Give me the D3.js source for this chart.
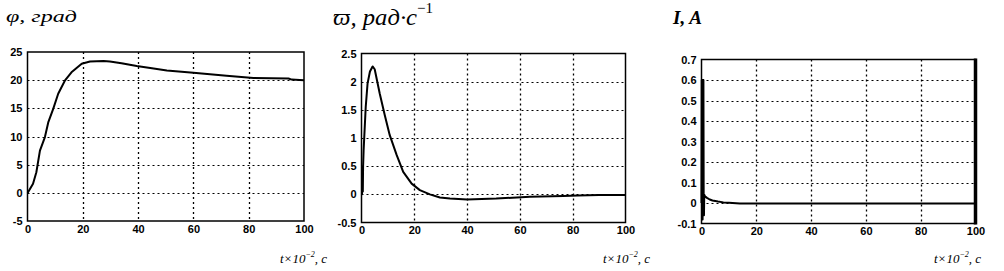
<!DOCTYPE html>
<html><head><meta charset="utf-8">
<script src="https://cdn.jsdelivr.net/npm/d3@7"></script>
<style>html,body{margin:0;padding:0;background:#fff;}svg{display:block;}</style>
</head><body>
<svg id="c" width="1004" height="271"></svg>
<script>
// ---- data ----
const timeTicks = [0, 20, 40, 60, 80, 100];
const phiTicks = [-5, 0, 5, 10, 15, 20, 25];
const omegaTicks = [-0.5, 0, 0.5, 1, 1.5, 2, 2.5];
const currentTicks = [-0.1, 0, 0.1, 0.2, 0.3, 0.4, 0.5, 0.6, 0.7];

const phiT = [0, 0.2, 2, 3.2, 4.5, 6.3, 7.5, 9.3, 11.1, 13.5, 15.9, 19.6, 22.6, 27.5, 29.8, 34, 39.5, 45, 50.4, 60, 72, 81.7, 94.4, 95.5, 100];
const phiV = [0, 0.1, 1.6, 3.65, 7.5, 9.9, 12.5, 14.9, 17.6, 19.9, 21.4, 22.9, 23.3, 23.4, 23.3, 23.0, 22.5, 22.1, 21.7, 21.3, 20.8, 20.4, 20.3, 20.1, 20.0];

const omegaT = [0, 0.2, 0.4, 0.5, 0.6, 0.8, 1.6, 2.3, 3.2, 4.2, 5.0, 6.9, 8.8, 10.7, 13.3, 15.8, 19, 22.1, 25.9, 29.7, 33.5, 40, 51, 63.8, 76.5, 82, 90, 100];
const omegaV = [0, 0, 0.5, 0.05, 0.49, 0.78, 1.55, 1.97, 2.18, 2.27, 2.22, 1.79, 1.41, 1.05, 0.70, 0.40, 0.19, 0.075, 0.0, -0.055, -0.075, -0.09, -0.075, -0.044, -0.03, -0.02, -0.01, -0.01];

const currentT = [0, 0.1, 0.2, 0.3, 0.4, 0.5, 0.6, 0.7, 0.8, 0.9, 1.0, 1.2, 1.5, 2, 3, 4, 6, 8, 10, 14, 18, 30, 50, 100];
const currentV = [0, 0.6, -0.08, 0.6, -0.08, 0.6, -0.05, 0.6, -0.02, -0.06, 0.04, 0.035, 0.03, 0.025, 0.017, 0.012, 0.007, 0.003, 0.001, -0.002, -0.003, -0.003, -0.003, -0.003];

const titles = ["φ, град", "ϖ, рад·с", "I, A"];

// ---- drawing ----
const svg = d3.select("#c");
const tickFont = "'Liberation Sans Narrow','Arial Narrow','Liberation Sans',sans-serif";
const serif = "'Liberation Serif','Times New Roman',serif";

function panel(cfg) {
  const x = d3.scaleLinear().domain([0, 100]).range([cfg.x0, cfg.x1]);
  const y = d3.scaleLinear().domain([cfg.yTicks[0], cfg.yTicks[cfg.yTicks.length - 1]]).range([cfg.y1, cfg.y0]);
  const g = svg.append("g");

  // grid
  g.selectAll(".hg").data(cfg.yTicks.slice(1, -1)).enter().append("line")
    .attr("x1", cfg.x0).attr("x2", cfg.x1)
    .attr("y1", d => Math.round(y(d)) + 0.5).attr("y2", d => Math.round(y(d)) + 0.5)
    .attr("stroke", "#000").attr("stroke-width", 1).attr("stroke-dasharray", "2,3");
  g.selectAll(".vg").data(timeTicks.slice(1, -1)).enter().append("line")
    .attr("y1", cfg.y0).attr("y2", cfg.y1)
    .attr("x1", d => Math.round(x(d)) + 0.5).attr("x2", d => Math.round(x(d)) + 0.5)
    .attr("stroke", "#000").attr("stroke-width", 1.3).attr("stroke-dasharray", "2,3");

  // axes via d3
  const ax = d3.axisBottom(x).tickValues(timeTicks).tickSize(0).tickPadding(4).tickFormat(d3.format("d"));
  const gx = g.append("g").attr("transform", `translate(0,${cfg.y1})`).call(ax);
  gx.select(".domain").remove();
  gx.selectAll("text").attr("font-family", tickFont).attr("font-size", 11).attr("font-weight", "bold").attr("fill", "#000");

  const ay = d3.axisLeft(y).tickValues(cfg.yTicks).tickSize(0).tickPadding(5).tickFormat(d => String(d));
  const gy = g.append("g").attr("transform", `translate(${cfg.x0},0)`).call(ay);
  gy.select(".domain").remove();
  gy.selectAll("text").attr("font-family", tickFont).attr("font-size", 11).attr("font-weight", "bold").attr("fill", "#000");

  // frame
  g.append("rect").attr("x", cfg.x0).attr("y", cfg.y0)
    .attr("width", cfg.x1 - cfg.x0).attr("height", cfg.y1 - cfg.y0)
    .attr("fill", "none").attr("stroke", "#000").attr("stroke-width", 1.5);
  if (cfg.thickRight) {
    g.append("line").attr("x1", cfg.x1).attr("x2", cfg.x1).attr("y1", cfg.y0 - 1).attr("y2", cfg.y1 + 1)
      .attr("stroke", "#000").attr("stroke-width", 3.5);
  }

  // curve
  const line = d3.line().x(d => x(d[0])).y(d => y(d[1]));
  g.append("path").datum(d3.zip(cfg.t, cfg.v)).attr("d", line)
    .attr("fill", "none").attr("stroke", "#000").attr("stroke-width", cfg.lw || 2)
    .attr("stroke-linejoin", "round");

  // x label
  const xl = g.append("text").attr("x", cfg.xl).attr("y", 263)
    .attr("font-family", serif).attr("font-size", 13).attr("font-style", "italic").attr("fill", "#000");
  xl.append("tspan").text("t×10");
  xl.append("tspan").attr("dy", -6).attr("font-size", 8).text("−2");
  xl.append("tspan").attr("dy", 6).text(", c");
  return g;
}

panel({x0: 27.5, x1: 304, y0: 52, y1: 221, yTicks: phiTicks, t: phiT, v: phiV, xl: 280});
panel({x0: 361.5, x1: 625.5, y0: 53.5, y1: 222.5, yTicks: omegaTicks, t: omegaT, v: omegaV, xl: 603});
panel({x0: 701.5, x1: 975.5, y0: 59.5, y1: 223.5, yTicks: currentTicks, t: currentT, v: currentV, xl: 934, thickRight: true});

// titles
svg.append("text").attr("x", 6).attr("y", 22).attr("font-family", serif).attr("font-style", "italic")
  .attr("font-size", 17).attr("textLength", 71).attr("lengthAdjust", "spacingAndGlyphs").text(titles[0]);
const t2 = svg.append("text").attr("x", 333).attr("y", 25).attr("font-family", serif).attr("font-style", "italic")
  .attr("font-size", 23);
t2.append("tspan").attr("textLength", 84).attr("lengthAdjust", "spacingAndGlyphs").text(titles[1]);
t2.append("tspan").attr("dy", -12).attr("font-size", 15).attr("font-style", "normal").text("−1");
svg.append("text").attr("x", 673).attr("y", 24).attr("font-family", serif).attr("font-style", "italic")
  .attr("font-weight", "bold").attr("font-size", 18).attr("textLength", 29).attr("lengthAdjust", "spacingAndGlyphs").text(titles[2]);
</script>
</body></html>
